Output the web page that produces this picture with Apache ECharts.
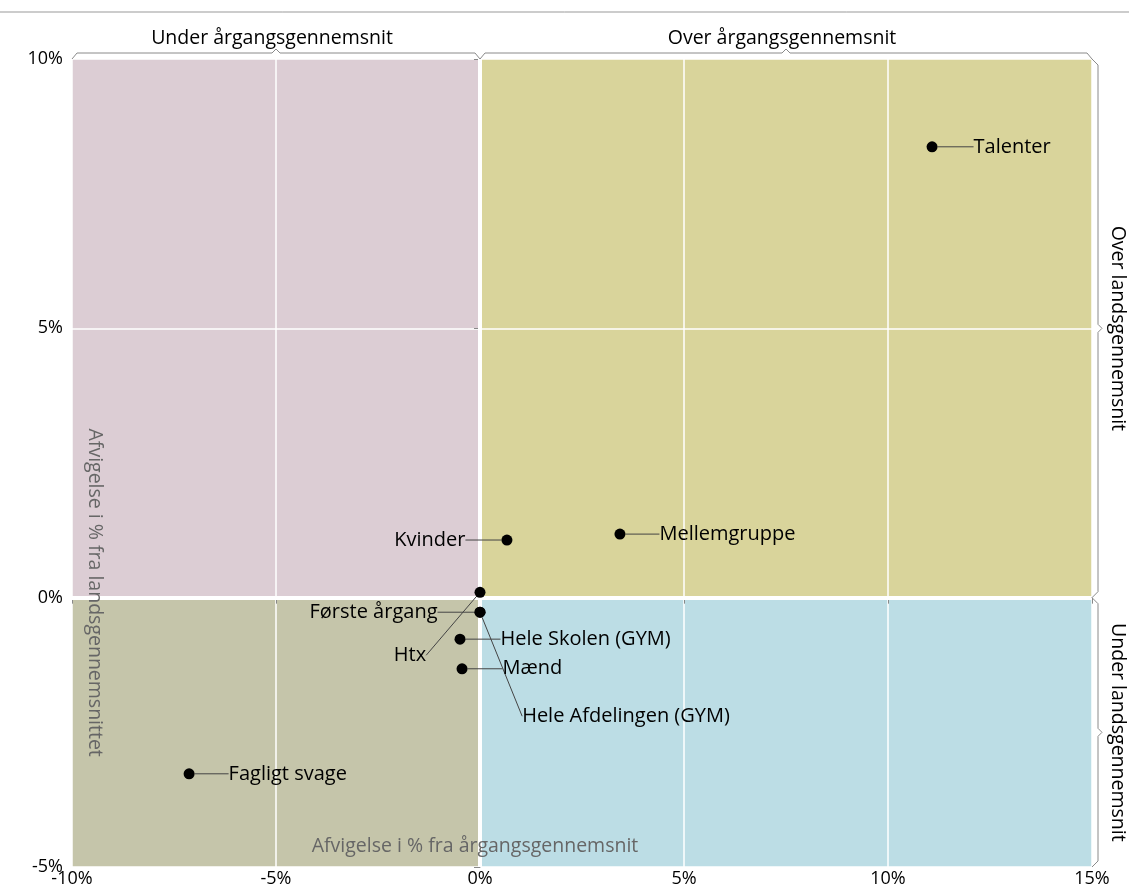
<!DOCTYPE html>
<html>
<head>
<meta charset="utf-8">
<script src="https://cdn.jsdelivr.net/npm/echarts@6/dist/echarts.min.js"></script>
<style>
  html, body { margin: 0; padding: 0; background: #fff; }
  #chart { width: 1129px; height: 893px; }
</style>
</head>
<body>
<div id="chart"></div>
<script>
// data (percent deviation)
const names = ['Talenter', 'Mellemgruppe', 'Kvinder', 'Htx', 'Første årgang',
  'Hele Afdelingen (GYM)', 'Hele Skolen (GYM)', 'Mænd', 'Fagligt svage'];
const xVals = [11.08, 3.43, 0.66, 0.0, 0.0, 0.0, -0.49, -0.44, -7.13];
const yVals = [8.37, 1.18, 1.07, 0.10, -0.27, -0.27, -0.77, -1.32, -3.27];

// quadrants: [xFrom, yFrom, xTo, yTo]
const quadrantBoxes = [[-10, 0, 0, 10], [0, 0, 15, 10], [-10, -5, 0, 0], [0, -5, 15, 0]];
const topGroups = [['Under årgangsgennemsnit', -10, 0], ['Over årgangsgennemsnit', 0, 15]];
const sideGroups = [['Over landsgennemsnit', 0, 10], ['Under landsgennemsnit', -5, 0]];

// styling
const quadrantColors = ['#dccdd4', '#d9d49b', '#c5c5aa', '#bcdde5'];
const labelPos = ['right', 'right', 'left', 'inside', 'left', 'inside', 'right', 'right', 'right'];
const labelShift = [[31, 0], [29, 0], [-31, 0], [-70, 63], [-32, 0], [146, 104], [30, 0], [30, 0], [29, 0]];
const FONT = '"Open Sans", sans-serif';

const chart = echarts.init(document.getElementById('chart'));

const axisCommon = {
  type: 'value',
  interval: 5,
  z: 3,
  axisTick: { show: true, length: 6, lineStyle: { color: '#888' } },
  splitLine: { show: true, lineStyle: { color: '#fff', width: 1.5 } }
};
const tickFont = { formatter: '{value}%', color: '#000', fontSize: 18, fontFamily: FONT };

chart.setOption({
  animation: false,
  grid: { left: 72, right: 37, top: 59, bottom: 26 },
  xAxis: Object.assign({}, axisCommon, {
    min: -10, max: 15,
    axisLine: { show: false },
    axisLabel: Object.assign({ margin: 3 }, tickFont)
  }),
  yAxis: Object.assign({}, axisCommon, {
    min: -5, max: 10,
    axisLine: { show: true, lineStyle: { color: '#999', width: 1 } },
    axisLabel: Object.assign({ margin: 9 }, tickFont)
  }),
  series: [
    {
      type: 'scatter',
      z: 1,
      silent: true,
      data: [],
      markArea: {
        silent: true,
        data: quadrantBoxes.map((q, i) => [
          { coord: [q[0], q[1]], itemStyle: { color: quadrantColors[i], opacity: 1 } },
          { coord: [q[2], q[3]] }
        ])
      }
    },
    {
      type: 'scatter',
      z: 4,
      silent: true,
      data: [],
      markLine: {
        silent: true,
        symbol: 'none',
        label: { show: false },
        lineStyle: { color: '#fff', width: 4, type: 'solid', opacity: 1 },
        data: [{ xAxis: 0 }, { yAxis: 0 }]
      }
    },
    {
      type: 'scatter',
      z: 5,
      symbolSize: 11,
      itemStyle: { color: '#000', opacity: 1 },
      data: names.map((n, i) => ({
        name: n,
        value: [xVals[i], yVals[i]],
        label: { position: labelPos[i] }
      })),
      label: {
        show: true,
        formatter: '{b}',
        color: '#000',
        fontSize: 20,
        fontFamily: FONT
      },
      labelLayout: function (p) {
        const s = labelShift[p.dataIndex];
        return { dx: s[0], dy: s[1] };
      },
      labelLine: { show: true, lineStyle: { color: '#444', width: 1, opacity: 1 } }
    }
  ]
});

// brackets and side titles placed from the axes' own scale
const px = (x, y) => chart.convertToPixel({ gridIndex: 0 }, [x, y]);
const graphics = [];
const bracketStyle = { stroke: '#8a8a8a', lineWidth: 1, fill: null };

topGroups.forEach(g => {
  const top = px(0, 10)[1];
  const l = px(g[1], 10)[0], r = px(g[2], 10)[0], m = (l + r) / 2;
  graphics.push({
    type: 'polyline', silent: true, z: 100,
    shape: { points: [[l, top], [l + 5, top - 6], [m - 4, top - 6], [m, top - 10], [m + 4, top - 6], [r - 5, top - 6], [r, top]] },
    style: bracketStyle
  });
  graphics.push({
    type: 'text', silent: true, z: 100, x: m - 4, y: top - 11,
    style: { text: g[0], fill: '#000', fontSize: 19.5, fontFamily: FONT, align: 'center', verticalAlign: 'bottom' }
  });
});

sideGroups.forEach(g => {
  const rx = px(15, 0)[0];
  const t = px(15, g[2])[1], b = px(15, g[1])[1], m = (t + b) / 2;
  graphics.push({
    type: 'polyline', silent: true, z: 100,
    shape: { points: [[rx, t], [rx + 6, t + 6], [rx + 6, m - 4], [rx + 10, m], [rx + 6, m + 4], [rx + 6, b - 6], [rx, b]] },
    style: bracketStyle
  });
  graphics.push({
    type: 'text', silent: true, z: 100, x: rx + 26, y: m,
    rotation: -Math.PI / 2,
    style: { text: g[0], fill: '#000', fontSize: 19.5, fontFamily: FONT, align: 'center', verticalAlign: 'middle' }
  });
});

const origin = px(0, 0);
const corner = px(-10, -5);
graphics.push({
  type: 'text', silent: true, z: 100, x: corner[0] + 23, y: origin[1] - 5,
  rotation: -Math.PI / 2,
  style: { text: 'Afvigelse i % fra landsgennemsnittet', fill: '#666', fontSize: 19.5, fontFamily: FONT, align: 'center', verticalAlign: 'middle' }
});
graphics.push({
  type: 'text', silent: true, z: 100, x: origin[0] - 5, y: corner[1] - 21,
  style: { text: 'Afvigelse i % fra årgangsgennemsnit', fill: '#666', fontSize: 19.5, fontFamily: FONT, align: 'center', verticalAlign: 'middle' }
});
graphics.push({
  type: 'line', silent: true, z: 100,
  shape: { x1: 0, y1: 12, x2: 1129, y2: 12 },
  style: { stroke: '#999', lineWidth: 1 }
});

chart.setOption({ graphic: graphics });
</script>
</body>
</html>
